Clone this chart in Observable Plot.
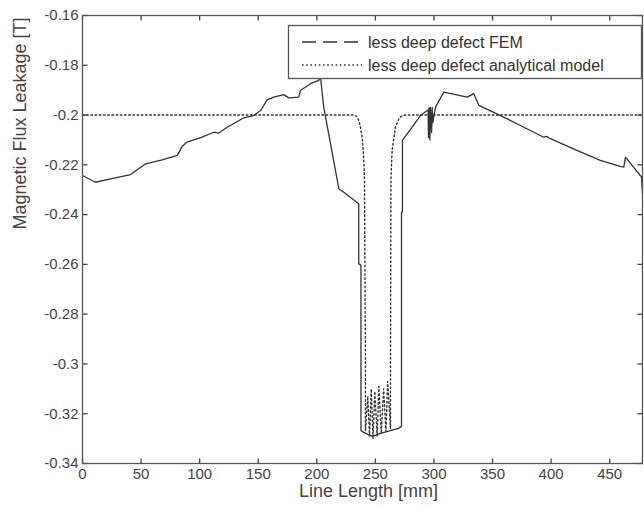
<!DOCTYPE html>
<html><head><meta charset="utf-8">
<script src="https://cdn.jsdelivr.net/npm/d3@7"></script>
<script src="https://cdn.jsdelivr.net/npm/@observablehq/plot@0.6"></script>
<style>
body{margin:0;background:#fff;}
#wrap{position:relative;width:644px;height:508px;}
#wrap svg.ov{position:absolute;left:0;top:0;pointer-events:none;}
</style></head><body><div id="wrap"></div>
<script>
// FEM curve (solid)
const femX = [0, 11, 24, 41, 54, 68, 81, 85, 89, 101, 112, 116, 123.5, 137.7, 146, 152, 157.6, 163.3, 171.8, 176, 184.6, 186, 194.6, 201.7, 203,
  205.9, 218.8, 223, 235.8, 235.8, 237.7, 237.7, 240, 247.5, 254.4, 269.7, 272.3, 272.3, 273.1, 273.1,
  288.5, 294.2, 295, 295.3, 295.8, 296.5, 297, 298, 298.5, 299, 301.3, 308.4, 328.4, 334, 338.3, 356.8,
  373.8, 393.7, 396.5, 399.4, 422, 442, 459, 462, 463.5, 477.1, 478];
const femY = [-0.2243, -0.227, -0.2256, -0.2239, -0.2196, -0.218, -0.2162, -0.2126, -0.2109, -0.2091, -0.2069, -0.2073, -0.2049, -0.2011, -0.2002, -0.1982, -0.1939, -0.1928, -0.1918, -0.1931, -0.1928, -0.1901, -0.1874, -0.1861, -0.184,
  -0.1968, -0.2296, -0.231, -0.2356, -0.2597, -0.2604, -0.3267, -0.3275, -0.3291, -0.3279, -0.3259, -0.3251, -0.2391, -0.2388, -0.2102,
  -0.2002, -0.1982, -0.198, -0.209, -0.197, -0.21, -0.197, -0.207, -0.197, -0.203, -0.1968, -0.1908, -0.1928, -0.1914, -0.1961, -0.2002,
  -0.2042, -0.2089, -0.2086, -0.2095, -0.2142, -0.2182, -0.2206, -0.2209, -0.2169, -0.2249, -0.2315];

// Analytical model curve (dotted)
const anaX = [0, 231, 234, 235.8, 237.3, 239, 240.3, 240.7, 241.5, 241.5, 243.5, 245, 246.5, 248, 249.5, 251.5, 253, 255, 257, 259, 260.5, 262.9,
  262.9, 263.3, 264.3, 265.1, 267.2, 270, 272.9, 275.7, 478];
const anaY = [-0.2, -0.2, -0.2005, -0.2021, -0.2049, -0.21, -0.22, -0.2263, -0.3, -0.327, -0.313, -0.329, -0.31, -0.33, -0.311, -0.329, -0.309, -0.328, -0.31, -0.327, -0.307, -0.326,
  -0.3, -0.2249, -0.2142, -0.2114, -0.2049, -0.2015, -0.2002, -0.2, -0.2];

const xTicks = [0, 50, 100, 150, 200, 250, 300, 350, 400, 450];
const yTicks = [-0.34, -0.32, -0.3, -0.28, -0.26, -0.24, -0.22, -0.2, -0.18, -0.16];
const seriesNames = ["less deep defect FEM", "less deep defect analytical model"];
const xLabel = "Line Length [mm]";
const yLabel = "Magnetic Flux Leakage [T]";

const fem = femX.map((x, i) => ({x, y: femY[i]}));
const ana = anaX.map((x, i) => ({x, y: anaY[i]}));
const fmt = d => String(+d.toFixed(2));
const FONT = '"Liberation Sans", Arial, sans-serif';

const W = 644, H = 508, ML = 82, MT = 15, MR = 2, MB = 45;
const xDom = [0, 478], yDom = [-0.34, -0.16];
const frameW = W - ML - MR, frameH = H - MT - MB, TL = 5;
// inward tick length (5 px) in data units
const tkX = (xDom[1] - xDom[0]) * TL / frameW;
const tkY = (yDom[1] - yDom[0]) * TL / frameH;
const tickData = xTicks.map(x => ({x}));
const tickDataY = yTicks.map(y => ({y}));
const TICK = {stroke: "#444", strokeWidth: 1.3};

const chart = Plot.plot({
  width: W, height: H,
  marginLeft: ML, marginTop: MT, marginRight: MR, marginBottom: MB,
  style: {fontFamily: FONT, fontSize: "15px", color: "#444", background: "#fff"},
  x: {domain: xDom},
  y: {domain: yDom},
  marks: [
    Plot.line(ana, {x: "x", y: "y", stroke: "#333", strokeWidth: 1.4, strokeDasharray: "1.6,2.6"}),
    Plot.line(fem, {x: "x", y: "y", stroke: "#333", strokeWidth: 1.3}),
    Plot.link(tickData, {x1: "x", x2: "x", y1: () => yDom[0], y2: () => yDom[0] + tkY, ...TICK}),
    Plot.link(tickData, {x1: "x", x2: "x", y1: () => yDom[1], y2: () => yDom[1] - tkY, ...TICK}),
    Plot.link(tickDataY, {y1: "y", y2: "y", x1: () => xDom[0], x2: () => xDom[0] + tkX, ...TICK}),
    Plot.link(tickDataY, {y1: "y", y2: "y", x1: () => xDom[1], x2: () => xDom[1] - tkX, ...TICK}),
    Plot.frame({stroke: "#555", strokeWidth: 1.3}),
    Plot.axisX(xTicks, {anchor: "bottom", tickSize: 0, tickPadding: 5, tickFormat: fmt, label: null}),
    Plot.axisY(yTicks, {anchor: "left", tickSize: 0, tickPadding: 4, tickFormat: fmt, label: null}),
    Plot.text([xLabel], {frameAnchor: "bottom", text: d => d, dy: 33, dx: 6, fontSize: 18}),
    Plot.text([yLabel], {frameAnchor: "left", text: d => d, rotate: -90, dx: -62, dy: -10, fontSize: 18})
  ]
});
const wrap = document.getElementById("wrap");
wrap.appendChild(chart);

// Legend box inside the plot area
const ov = d3.select(wrap).append("svg").attr("class", "ov").attr("width", W).attr("height", H);
ov.append("rect").attr("x", 288.5).attr("y", 25.5).attr("width", 353).attr("height", 53)
  .attr("fill", "#fff").attr("stroke", "#555").attr("stroke-width", 1.3);
const dashes = ["14,7", "1.6,2.6"];
const rows = [42, 65];
seriesNames.forEach((name, i) => {
  ov.append("line").attr("x1", 302).attr("x2", 362).attr("y1", rows[i]).attr("y2", rows[i])
    .attr("stroke", "#333").attr("stroke-width", i === 0 ? 1.6 : 1.4).attr("stroke-dasharray", dashes[i]);
  ov.append("text").attr("x", 368).attr("y", rows[i]).attr("dy", "0.35em")
    .attr("font-family", FONT).attr("font-size", 16).attr("fill", "#333").text(name);
});
</script></body></html>
